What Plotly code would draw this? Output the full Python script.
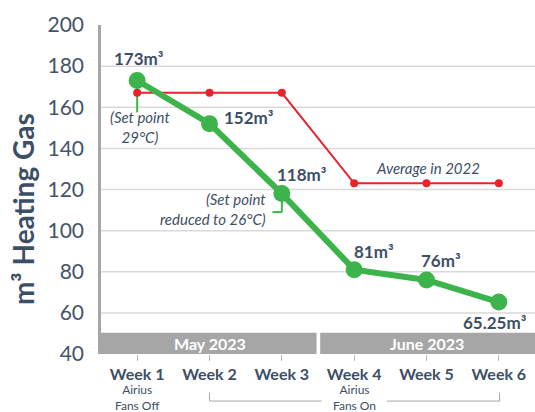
import plotly.graph_objects as go

weeks = ["Week 1", "Week 2", "Week 3", "Week 4", "Week 5", "Week 6"]
gas_2023 = [173, 152, 118, 81, 76, 65.25]
avg_2022 = [167, 167, 167, 123, 123, 123]
months = ["May 2023", "June 2023"]
y_ticks = [40, 60, 80, 100, 120, 140, 160, 180, 200]

TXT = "#3d4f66"
GREEN = "#3cb44b"
RED = "#e8232b"
GRAYBAND = "#a6a6a6"
FONT = "Lato"

xi = list(range(len(weeks)))

fig = go.Figure()
fig.add_trace(go.Scatter(x=xi, y=avg_2022, mode="lines+markers",
                         line=dict(color=RED, width=2),
                         marker=dict(color=RED, size=8), hoverinfo="skip"))
fig.add_trace(go.Scatter(x=xi, y=gas_2023, mode="lines+markers",
                         line=dict(color=GREEN, width=6),
                         marker=dict(color=GREEN, size=17), hoverinfo="skip"))

# data labels (offsets in pixels)
offsets = [(2, 22), (39, 6), (20, 19), (20, 18), (14, 19), (-4, -20)]
for i, v in enumerate(gas_2023):
    dx, dy = offsets[i]
    fig.add_annotation(x=i, y=v, xref="x", yref="y", text=f"<b>{v:g}m³</b>",
                       showarrow=False, xshift=dx, yshift=dy,
                       font=dict(family=FONT, size=17, color=TXT))

shapes = []
# horizontal gridlines (interior only, as in the reference)
for t in y_ticks[1:-1]:
    shapes.append(dict(type="line", xref="paper", yref="y", x0=0, x1=1, y0=t, y1=t,
                       line=dict(color="#d9d9d9", width=1.5), layer="below"))
# month bands
shapes.append(dict(type="rect", xref="x", yref="y", x0=-0.52, x1=2.48, y0=40, y1=50.3,
                   fillcolor=GRAYBAND, line=dict(width=0), layer="above"))
shapes.append(dict(type="rect", xref="x", yref="y", x0=2.53, x1=5.5, y0=40, y1=50.3,
                   fillcolor=GRAYBAND, line=dict(width=0), layer="above"))
for m, cx in zip(months, [1, 4]):
    fig.add_annotation(x=cx, y=45.2, xref="x", yref="y", text=f"<b>{m}</b>",
                       showarrow=False, font=dict(family=FONT, size=16, color="white"))

# set point connectors
shapes.append(dict(type="line", xref="x", yref="y", x0=0, x1=0, y0=gas_2023[0], y1=157.5,
                   line=dict(color=GREEN, width=2), layer="below"))
shapes.append(dict(type="line", xref="x", yref="y", x0=2, x1=2, y0=gas_2023[2], y1=109,
                   line=dict(color=GREEN, width=2), layer="below"))
shapes.append(dict(type="line", xref="x", yref="y", x0=2, x1=1.87, y0=109, y1=109,
                   line=dict(color=GREEN, width=2), layer="below"))

# bracket under weeks 2-6
BR = "#a6a6a6"
shapes.append(dict(type="line", xref="x", yref="paper", x0=1, x1=1, y0=-0.118, y1=-0.143,
                   line=dict(color=BR, width=1)))
shapes.append(dict(type="line", xref="x", yref="paper", x0=1, x1=2.55, y0=-0.143, y1=-0.143,
                   line=dict(color=BR, width=1)))
shapes.append(dict(type="line", xref="x", yref="paper", x0=3.45, x1=5.01, y0=-0.143, y1=-0.143,
                   line=dict(color=BR, width=1)))
shapes.append(dict(type="line", xref="x", yref="paper", x0=5.01, x1=5.01, y0=-0.118, y1=-0.143,
                   line=dict(color=BR, width=1)))

for cx, txt in [(0, "Airius<br>Fans Off"), (3, "Airius<br>Fans On")]:
    fig.add_annotation(x=cx, y=-0.1307, xref="x", yref="paper", text=txt, showarrow=False,
                       xanchor="center", yanchor="middle", align="center",
                       font=dict(family=FONT, size=12, color=TXT))

# italic notes
fig.add_annotation(x=0.04, y=150.4, xref="x", yref="y",
                   text="<i>(Set point<br>29°C)</i>", showarrow=False, align="center",
                   font=dict(family=FONT, size=15, color=TXT))
fig.add_annotation(x=1.81, y=110.3, xref="x", yref="y", xanchor="right",
                   text="<i>(Set point<br>reduced to 26°C)</i>", showarrow=False, align="right",
                   font=dict(family=FONT, size=15, color=TXT))
fig.add_annotation(x=4.02, y=130.5, xref="x", yref="y",
                   text="<i>Average in 2022</i>", showarrow=False,
                   font=dict(family=FONT, size=15, color=TXT))

# y title
fig.add_annotation(x=-0.18, y=0.44, xref="paper", yref="paper", textangle=-90,
                   xanchor="center", yanchor="middle",
                   text="<b>m³ Heating Gas</b>", showarrow=False,
                   font=dict(family=FONT, size=28, color=TXT))

fig.update_layout(
    width=535, height=412,
    margin=dict(l=101, r=0, t=25, b=58),
    paper_bgcolor="white", plot_bgcolor="white",
    showlegend=False, shapes=shapes,
    font=dict(family=FONT, color=TXT),
)
fig.update_xaxes(range=[-0.5, 5.5], tickvals=xi, ticktext=weeks,
                 ticks="outside", ticklen=6, tickcolor="#bfbfbf", tickwidth=1,
                 showgrid=False, showline=False, zeroline=False,
                 tickfont=dict(family=FONT, size=16, color=TXT, weight="bold"))
fig.update_yaxes(range=[40, 200], tickvals=y_ticks, showgrid=False,
                 showline=True, linecolor="#a6a6a6", linewidth=2.5,
                 zeroline=False, ticks="", ticklabelstandoff=10,
                 tickfont=dict(family=FONT, size=21, color="#44546a"))

fig.write_html("out.html", config={"displayModeBar": False},
               post_script="document.body.style.margin='0';document.body.style.overflow='hidden';")
